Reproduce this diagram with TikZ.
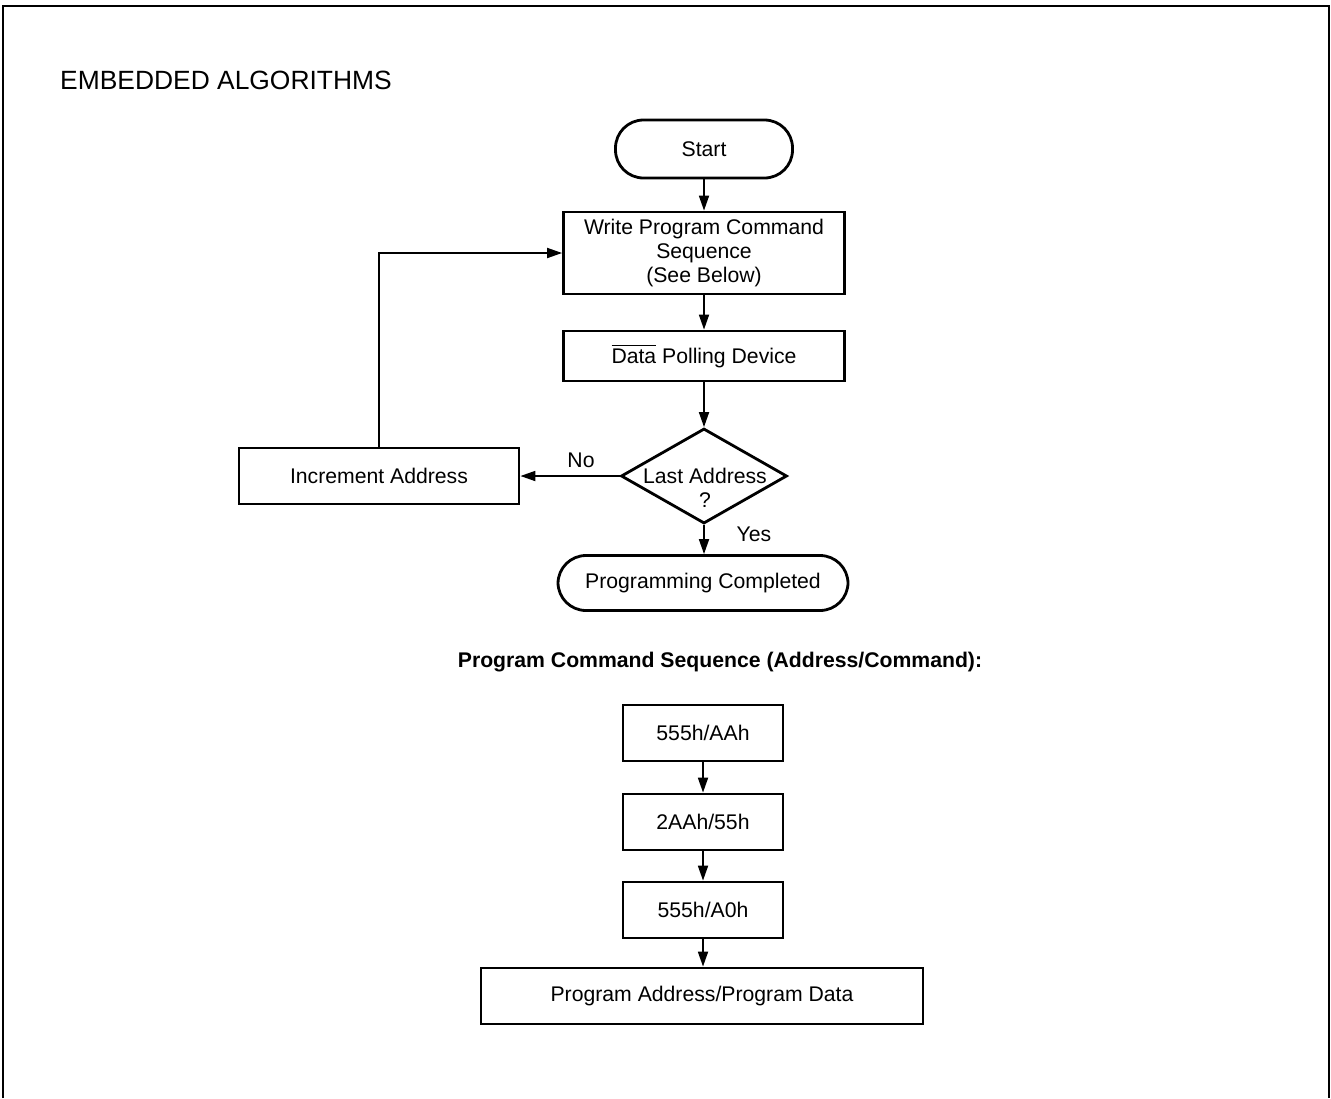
\documentclass[tikz,border=0pt]{standalone}
\usepackage{fontspec}
\setmainfont{Liberation Sans}
\usetikzlibrary{arrows.meta,shapes.geometric}
\tikzset{
  every node/.style={font=\fontsize{10.6}{11.8}\selectfont},
  stepbox/.style={draw, line width=1.4pt, inner sep=0pt, align=center},
  termbox/.style={stepbox, rounded corners=14pt},
  decision/.style={draw, diamond, line width=1.4pt, inner sep=0pt, minimum width=83pt, minimum height=47.5pt},
  flow/.style={line width=0.9pt, -{Triangle[length=7.5pt,width=5pt]}},
  plain/.style={line width=0.9pt}
}
\begin{document}
\begin{tikzpicture}[x=0.5pt,y=-0.5pt]
\useasboundingbox (0,0) rectangle (1331,1098);
% Frame
\draw[line width=1pt] (3,1098) -- (3,6) -- (1329,6) -- (1329,1098);
\node (heading) at (226,80) {\fontsize{13.2}{15}\selectfont EMBEDDED ALGORITHMS};
%TOP
\node[termbox, minimum width=88.5pt, minimum height=29pt] (start) at (704,149) {Start};
\node[stepbox, minimum width=140.5pt, minimum height=41pt] (write) at (704,253) {Write Program Command\\Sequence\\(See Below)};
\node[stepbox, minimum width=140.5pt, minimum height=25pt] (poll) at (704,356) {$\overline{\mbox{Data}}$ Polling Device};
\node[decision] (last) at (704,476) {};
\node[align=center] (lasttext) at (705,488) {Last Address\\?};
\node[stepbox, minimum width=140pt, minimum height=28pt] (incr) at (379,476) {Increment Address};
\node[termbox, minimum width=145pt, minimum height=27.5pt] (done) at (703,583) {Programming Completed};
\node (no) at (581,460) {No};
\node (yes) at (754,534) {Yes};
\draw[flow] (start) -- (write);
\draw[flow] (write) -- (poll);
\draw[flow] (poll) -- (last);
\draw[flow] (last.west) -- (incr);
\draw[flow] (last.south) -- (last.south |- done.north);
\draw[flow] (incr.north) |- (write.west);
%BOT
\node (seqtitle) at (720,662) {\bfseries Program Command Sequence (Address/Command):};
\node[stepbox, minimum width=80pt, minimum height=28pt] (cmda) at (703,733) {555h/AAh};
\node[stepbox, minimum width=80pt, minimum height=28pt] (cmdb) at (703,822) {2AAh/55h};
\node[stepbox, minimum width=80pt, minimum height=28pt] (cmdc) at (703,910) {555h/A0h};
\node[stepbox, minimum width=221pt, minimum height=28pt] (progdata) at (702,996) {Program Address/Program Data};
\draw[flow] (cmda) -- (cmdb);
\draw[flow] (cmdb) -- (cmdc);
\draw[flow] (cmdc) -- (cmdc |- progdata.north);
\end{tikzpicture}
\end{document}
